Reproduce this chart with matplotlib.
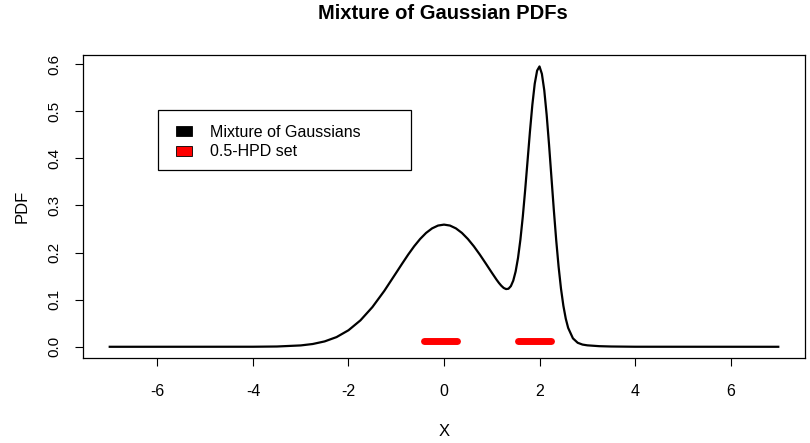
import matplotlib
matplotlib.use("Agg")
import matplotlib.pyplot as plt
from matplotlib.patches import Patch, Rectangle

plt.rcParams['font.family'] = ['Liberation Sans', 'DejaVu Sans']

# Curve values
x_vals = [-7.0, -4.0, -3.5, -3.0, -2.75, -2.5, -2.25, -2.0, -1.75, -1.5, -1.25, -1.0,
          -0.875, -0.75, -0.625, -0.5, -0.375, -0.25, -0.125, 0.0, 0.125, 0.25,
          0.375, 0.5, 0.625, 0.75, 0.875, 1.0, 1.1, 1.15, 1.2, 1.25, 1.3, 1.35,
          1.4, 1.45, 1.5, 1.55, 1.6, 1.65, 1.7, 1.75, 1.8, 1.85, 1.9, 1.95, 2.0,
          2.05, 2.1, 2.15, 2.2, 2.25, 2.3, 2.35, 2.4, 2.45, 2.5, 2.55, 2.6, 2.7,
          2.8, 2.9, 3.0, 3.25, 3.5, 4.0, 7.0]
pdf_vals = [0.0, 0.0001, 0.0006, 0.0029, 0.0059, 0.0114, 0.0206, 0.0351, 0.0561,
            0.0842, 0.1187, 0.1573, 0.1767, 0.1957, 0.2133, 0.2288, 0.2417, 0.2513,
            0.2573, 0.2593, 0.2573, 0.2513, 0.2417, 0.2288, 0.2133, 0.1957, 0.1768,
            0.1575, 0.1425, 0.1356, 0.1296, 0.1249, 0.1225, 0.1232, 0.1287, 0.1403,
            0.1598, 0.1885, 0.2274, 0.2761, 0.3330, 0.3949, 0.4569, 0.5133, 0.5583,
            0.5862, 0.5950, 0.5792, 0.5442, 0.4922, 0.4287, 0.3594, 0.2903, 0.2260,
            0.1699, 0.1234, 0.0870, 0.0597, 0.0401, 0.0179, 0.0085, 0.0047, 0.0031,
            0.0013, 0.0006, 0.0001, 0.0]

# 0.5-HPD intervals
hpd_starts = [-0.41, 1.56]
hpd_ends = [0.28, 2.24]
hpd_level = 0.012

x_ticks = [-6, -4, -2, 0, 2, 4, 6]
y_ticks = [0.0, 0.1, 0.2, 0.3, 0.4, 0.5, 0.6]
y_ticklabels = ["0.0", "0.1", "0.2", "0.3", "0.4", "0.5", "0.6"]
legend_labels = ["Mixture of Gaussians", "0.5-HPD set"]
legend_colors = ["black", "red"]

W, H = 810, 443
fig = plt.figure(figsize=(8.1, 4.43), dpi=100)
ax_l, ax_r, ax_t, ax_b = 83, 805, 55, 358
ax = fig.add_axes([ax_l / W, 1 - ax_b / H, (ax_r - ax_l) / W, (ax_b - ax_t) / H])

ax.plot(x_vals, pdf_vals, color="black", linewidth=1.6)
for s, e in zip(hpd_starts, hpd_ends):
    ax.plot([s, e], [hpd_level, hpd_level], color="red", linewidth=5,
            solid_capstyle="round")

ax.set_xlim(-7.56, 7.56)
ax.set_ylim(-0.0238, 0.6193)
ax.set_xticks(x_ticks)
ax.set_xticklabels([str(t) for t in x_ticks])
ax.set_yticks(y_ticks)
ax.set_yticklabels(y_ticklabels, rotation=90, va="center")
ax.tick_params(axis="both", direction="out", length=5.5, width=0.8,
               labelsize=11, colors="black")
ax.tick_params(axis="x", pad=13, labelsize=11.5)
ax.tick_params(axis="y", pad=10)
for sp in ax.spines.values():
    sp.set_linewidth(0.9)

ax.set_xlabel("X", fontsize=12, labelpad=18)
ax.set_ylabel("PDF", fontsize=12, labelpad=13)
fig.text(443 / W, 1 - 13.5 / H, "Mixture of Gaussian PDFs", fontsize=14.5,
         fontweight="bold", ha="center", va="center")

# legend frame
fx0, fx1, fy0, fy1 = 158, 411, 110, 170
ax.add_patch(Rectangle(((fx0 - ax_l) / (ax_r - ax_l), (ax_b - fy1) / (ax_b - ax_t)),
                       (fx1 - fx0) / (ax_r - ax_l), (fy1 - fy0) / (ax_b - ax_t),
                       transform=ax.transAxes, facecolor="white", edgecolor="black",
                       linewidth=0.9, zorder=4))
handles = [Patch(facecolor=c, edgecolor="black", linewidth=0.6) for c in legend_colors]
leg = ax.legend(handles, legend_labels, loc="upper left",
                bbox_to_anchor=((176 - ax_l) / (ax_r - ax_l), (ax_b - 125) / (ax_b - ax_t)),
                fontsize=11.5, frameon=False,
                handlelength=1.0, handleheight=0.6, handletextpad=1.1,
                borderpad=0, labelspacing=0.28, borderaxespad=0)
leg.set_zorder(5)

fig.savefig("out.png", dpi=100)
